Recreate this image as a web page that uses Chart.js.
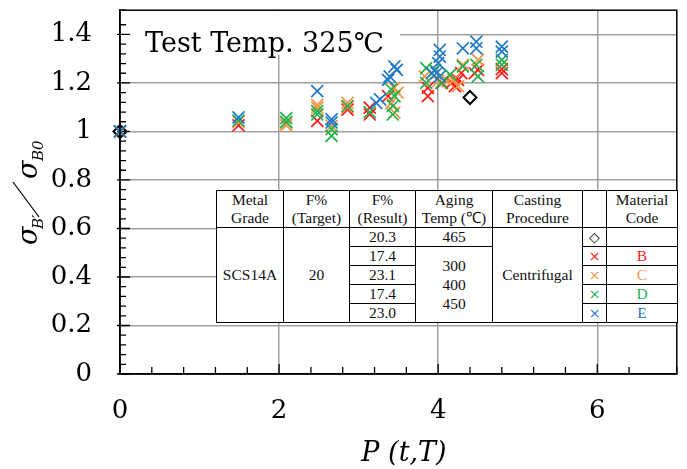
<!DOCTYPE html>
<html><head><meta charset="utf-8">
<script src="https://cdn.jsdelivr.net/npm/chart.js@4.4.1/dist/chart.umd.min.js"></script>
<style>
html,body{margin:0;padding:0;background:#fff;}
#wrap{position:relative;width:687px;height:469px;overflow:hidden;}
#c{position:absolute;left:0;top:0;}
#tbl{position:absolute;left:216px;top:190px;width:461px;height:129px;border-collapse:collapse;table-layout:fixed;background:#fff;font-family:'Liberation Serif',serif;font-size:15.5px;color:#111;border:1.5px solid #000;}
#tbl td{border:1px solid #000;padding:0;text-align:center;vertical-align:middle;line-height:18px;white-space:nowrap;overflow:hidden;}
#tbl .mk{font-family:'DejaVu Sans',sans-serif;font-size:14px;}
</style></head>
<body>
<div id="wrap">
<canvas id="c" width="687" height="469"></canvas>
<table id="tbl">
<colgroup><col style="width:67px"><col style="width:66px"><col style="width:66px"><col style="width:77px"><col style="width:90px"><col style="width:24px"><col style="width:71px"></colgroup>
<tr style="height:37px"><td>Metal<br>Grade</td><td>F%<br>(Target)</td><td>F%<br>(Result)</td><td>Aging<br>Temp (℃)</td><td>Casting<br>Procedure</td><td></td><td>Material<br>Code</td></tr>
<tr style="height:19px"><td rowspan="5">SCS14A</td><td rowspan="5">20</td><td>20.3</td><td>465</td><td rowspan="5">Centrifugal</td><td class="mk" style="color:#000">◇</td><td></td></tr>
<tr style="height:18px"><td>17.4</td><td rowspan="4" style="line-height:19px">300<br>400<br>450</td><td class="mk" style="color:#ff1a1a">×</td><td style="color:#ff1a1a">B</td></tr>
<tr style="height:18px"><td>23.1</td><td class="mk" style="color:#f79646">×</td><td style="color:#f79646">C</td></tr>
<tr style="height:19px"><td>17.4</td><td class="mk" style="color:#1fb04c">×</td><td style="color:#1fb04c">D</td></tr>
<tr style="height:18px"><td>23.0</td><td class="mk" style="color:#1f78c8">×</td><td style="color:#1f78c8">E</td></tr>
</table>
</div>
<script>
// ---- data ----
const xTickLabels = [0, 2, 4, 6];
const yTickLabels = [0, 0.2, 0.4, 0.6, 0.8, 1, 1.2, 1.4];

const aX = [0, 4.40];
const aY = [1.0, 1.14];

const bX = [0, 1.49, 2.48, 2.86, 3.14, 3.14, 3.37, 3.87, 3.87, 4.05, 4.17, 4.21, 4.29, 4.25, 4.50, 4.46, 4.80, 4.80];
const bY = [1.0, 1.025, 1.044, 1.09, 1.098, 1.07, 1.146, 1.18, 1.146, 1.20, 1.20, 1.187, 1.241, 1.213, 1.254, 1.24, 1.241, 1.257];

const cX = [0, 1.49, 2.09, 2.09, 2.48, 2.48, 2.66, 2.86, 2.86, 3.45, 3.49, 3.41, 3.45, 3.83, 4.00, 4.12, 4.19, 4.31, 4.25, 4.50];
const cY = [1.0, 1.04, 1.025, 1.035, 1.11, 1.098, 1.023, 1.118, 1.10, 1.18, 1.16, 1.118, 1.078, 1.227, 1.207, 1.207, 1.213, 1.275, 1.187, 1.295];

const dX = [0, 1.49, 2.09, 2.09, 2.48, 2.48, 2.66, 2.66, 2.86, 3.14, 3.41, 3.45, 3.43, 3.43, 3.85, 3.85, 3.96, 4.04, 4.15, 4.31, 4.48, 4.50, 4.80, 4.80];
const dY = [1.0, 1.045, 1.055, 1.04, 1.084, 1.07, 1.01, 0.982, 1.105, 1.08, 1.173, 1.146, 1.105, 1.07, 1.261, 1.20, 1.254, 1.20, 1.234, 1.268, 1.275, 1.227, 1.295, 1.275];

const eX = [0, 1.49, 2.48, 2.66, 2.66, 3.22, 3.27, 3.45, 3.48, 3.39, 3.37, 3.92, 4.02, 4.02, 4.00, 3.98, 4.02, 4.31, 4.48, 4.48, 4.80, 4.80];
const eY = [1.0, 1.058, 1.166, 1.05, 1.037, 1.118, 1.132, 1.268, 1.254, 1.227, 1.213, 1.241, 1.336, 1.309, 1.282, 1.241, 1.227, 1.343, 1.37, 1.343, 1.35, 1.329];

const titleText = 'Test Temp. 325℃';
const xTitle = 'P (t,T)';

// ---- build ----
const pts = (xs, ys) => xs.map((x, i) => ({x: x, y: ys[i]}));
const near = (v, arr) => arr.some(a => Math.abs(a - v) < 1e-6);
const GRID = '#a0a0a0';

function crossSet(label, xs, ys, color) {
  return {label, data: pts(xs, ys), pointStyle: 'crossRot', pointRadius: 8.5, pointHoverRadius: 8.5,
    borderColor: color, backgroundColor: color, pointBorderWidth: 1.7, showLine: false, clip: false};
}
function noPad(s) { s.paddingTop = 0; s.paddingBottom = 0; s.paddingLeft = 0; s.paddingRight = 0; }

const decor = {
  id: 'decor',
  beforeDatasetsDraw(chart) {
    const {ctx, chartArea: ca, scales} = chart;
    ctx.save();
    // white box behind the title
    ctx.fillStyle = '#fff';
    ctx.fillRect(ca.left + 1, ca.top + 1, 400 - ca.left - 1, 55 - ca.top - 1);
    ctx.fillStyle = '#000';
    ctx.font = '27px "DejaVu Serif"';
    ctx.textBaseline = 'alphabetic';
    ctx.textAlign = 'left';
    ctx.fillText(titleText, 145, 51.5);
    // inward ticks
    ctx.strokeStyle = '#000';
    ctx.lineWidth = 1.3;
    ctx.beginPath();
    scales.y.ticks.forEach(t => {
      const p = scales.y.getPixelForValue(t.value);
      const major = near(t.value, yTickLabels);
      ctx.moveTo(ca.left - (major ? 3 : 0), p);
      ctx.lineTo(ca.left + (major ? 10 : 6), p);
    });
    scales.x.ticks.forEach(t => {
      const p = scales.x.getPixelForValue(t.value);
      const major = near(t.value, xTickLabels);
      ctx.moveTo(p, ca.bottom);
      ctx.lineTo(p, ca.bottom - (major ? 10 : 7));
    });
    ctx.stroke();
    ctx.restore();
  },
  afterDatasetsDraw(chart) {
    const {ctx, chartArea: ca} = chart;
    ctx.save();
    ctx.strokeStyle = '#000';
    ctx.lineWidth = 1.5;
    ctx.strokeRect(ca.left, ca.top, ca.right - ca.left, ca.bottom - ca.top);
    // x axis title, slightly right of centre as in the reference
    ctx.fillStyle = '#000';
    ctx.font = 'italic 27px "DejaVu Serif"';
    ctx.textAlign = 'center';
    ctx.textBaseline = 'alphabetic';
    ctx.fillText(xTitle, 404, 461);
    // y axis title  sigma_B' / sigma_B0
    ctx.translate(37, 245);
    ctx.rotate(-Math.PI / 2);
    ctx.textAlign = 'left';
    ctx.font = 'italic 27px "DejaVu Serif"';
    ctx.fillText('σ', 0, 0);
    ctx.font = 'italic 15px "DejaVu Serif"';
    ctx.fillText('B′', 16, 6);
    ctx.lineWidth = 1.2;
    ctx.beginPath();
    ctx.moveTo(28, 2);
    ctx.lineTo(63, -24);
    ctx.stroke();
    ctx.font = 'italic 27px "DejaVu Serif"';
    ctx.fillText('σ', 66, 0);
    ctx.font = 'italic 15px "DejaVu Serif"';
    ctx.fillText('B0', 84, 6);
    ctx.restore();
  }
};

Chart.defaults.font.family = '"DejaVu Serif", serif';
Chart.defaults.color = '#000';

new Chart(document.getElementById('c'), {
  type: 'scatter',
  data: {
    // first dataset is drawn on top: E over D over C over B over the diamonds
    datasets: [
      crossSet('E', eX, eY, '#1f78c8'),
      crossSet('D', dX, dY, '#1fb04c'),
      crossSet('C', cX, cY, '#f79646'),
      crossSet('B', bX, bY, '#ff1a1a'),
      {label: 'A', data: pts(aX, aY), pointStyle: 'rectRot', pointRadius: 6.5, pointHoverRadius: 6.5,
       borderColor: '#000', backgroundColor: 'rgba(255,255,255,0)', pointBorderWidth: 2, showLine: false, clip: false}
    ]
  },
  options: {
    responsive: false,
    animation: false,
    devicePixelRatio: 1,
    layout: {padding: {top: 6.5, right: 10, left: 0, bottom: 0}},
    plugins: {legend: {display: false}, tooltip: {enabled: false}},
    scales: {
      x: {
        type: 'linear', min: 0, max: 7,
        afterFit: s => { s.height = 95; noPad(s); },
        ticks: {stepSize: 0.4, autoSkip: false, maxRotation: 0, padding: 22,
          font: {size: 26, family: '"DejaVu Serif"'},
          callback: v => near(v, xTickLabels) ? String(Math.round(v)) : ''},
        grid: {drawTicks: false, lineWidth: 1.5,
          color: c => (c.tick && near(c.tick.value, xTickLabels) && c.tick.value > 0) ? GRID : 'rgba(0,0,0,0)'},
        border: {display: true, color: '#000', width: 1.5},
        title: {display: false}
      },
      y: {
        type: 'linear', min: 0, max: 1.5,
        afterFit: s => { s.width = 120; noPad(s); },
        ticks: {stepSize: 0.04, autoSkip: false, padding: 28,
          font: {size: 26, family: '"DejaVu Serif"'},
          callback: v => near(v, yTickLabels) ? String(Math.round(v * 10) / 10) : ''},
        grid: {drawTicks: false, lineWidth: 1.5,
          color: c => (c.tick && near(c.tick.value, yTickLabels) && c.tick.value > 0) ? GRID : 'rgba(0,0,0,0)'},
        border: {display: true, color: '#000', width: 1.5}
      }
    }
  },
  plugins: [decor]
});
</script>
</body></html>
